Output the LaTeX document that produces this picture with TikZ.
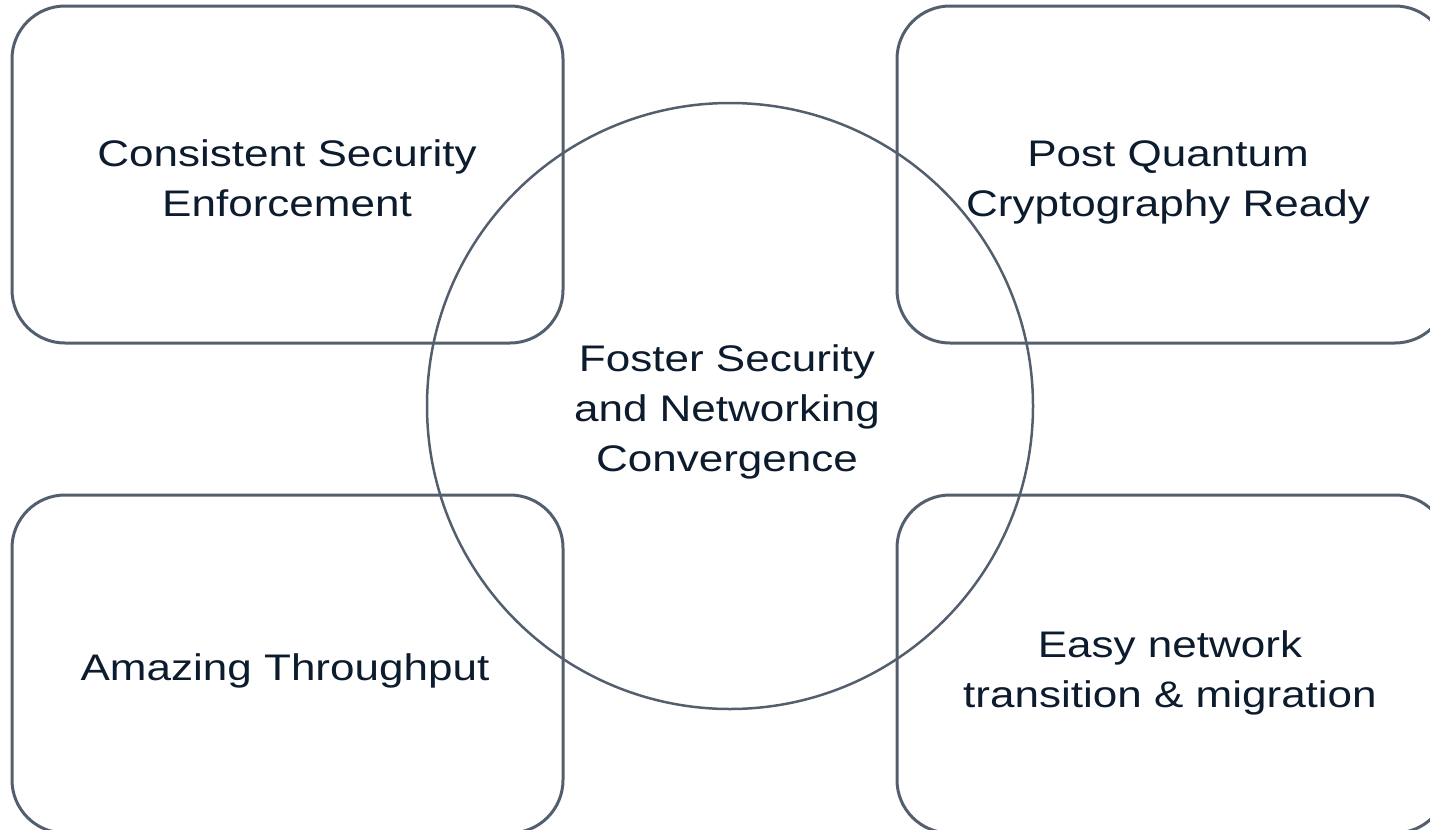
\documentclass[tikz,border=0pt]{standalone}
\usepackage{fontspec}
\setmainfont[FakeStretch=1.19]{Liberation Sans}
\definecolor{edge}{RGB}{84,95,110}
\definecolor{ink}{RGB}{12,27,45}
\tikzset{
  card/.style={draw=edge, line width=3pt, rounded corners=53pt},
  hub/.style={draw=edge, line width=2.5pt, circle, minimum size=606pt, inner sep=0pt},
  label/.style={text=ink, align=center, inner sep=0pt,
    font=\fontsize{37pt}{50pt}\selectfont},
}
\begin{document}
\begin{tikzpicture}[x=1pt,y=-1pt]
\useasboundingbox (0,0) rectangle (1430,830);
\clip (0,0) rectangle (1430,830);
\draw[card] (12,6) rectangle (563,343);
\draw[card] (897,6) rectangle (1448,343);
\draw[card] (12,495) rectangle (563,833);
\draw[card] (897,495) rectangle (1448,833);
\node[hub] (hub) at (730,406) {};
\node[label] (tl) at (287,178) {Consistent Security\\Enforcement};
\node[label] (tr) at (1168,182) {Post Quantum\\Cryptography Ready};
\node[label] (c) at (727,412) {Foster Security\\and Networking\\Convergence};
\node[label] (bl) at (285,671) {Amazing Throughput};
\node[label] (br) at (1170,673) {Easy network\\transition \& migration};
\end{tikzpicture}
\end{document}
